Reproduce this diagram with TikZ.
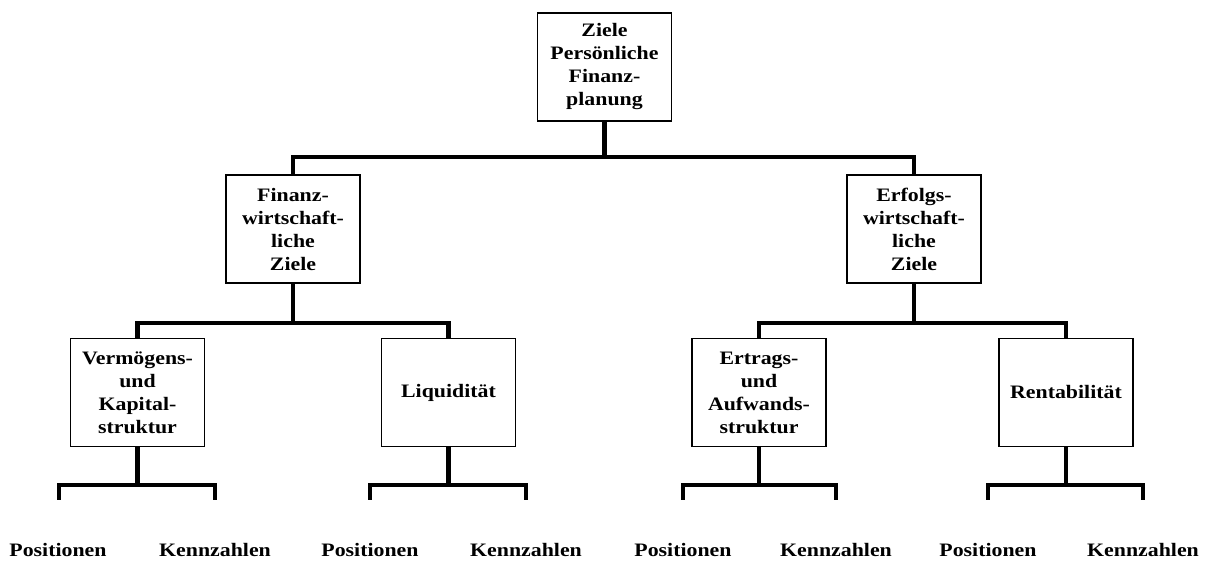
\documentclass[tikz,border=0pt]{standalone}
\usepackage{fontspec}
\setmainfont{Liberation Serif}[FakeStretch=1.15]
\begin{document}
\begin{tikzpicture}[x=1pt,y=-1pt,
  box/.style={draw,line width=1.4pt,minimum width=134pt,minimum height=108pt,inner sep=0pt,align=center,
    font=\fontsize{19}{23}\selectfont\bfseries},
  lbl/.style={inner sep=0pt,font=\fontsize{19}{23}\selectfont\bfseries},
  conn/.style={line width=4.5pt}]
\useasboundingbox (0,0) rectangle (1211,564);
\node[box] (top) at (604.5,67) {Ziele\\Persönliche\\Finanz-\\planung};
\node[box] (fin) at (293,229) {Finanz-\\wirtschaft-\\liche\\Ziele};
\node[box] (erf) at (914,229) {Erfolgs-\\wirtschaft-\\liche\\Ziele};
\node[box] (verm) at (137.5,392.5) {Vermögens-\\und\\Kapital-\\struktur};
\node[box] (liq) at (448.5,392.5) {Liquidität};
\node[box] (ertr) at (759,392.5) {Ertrags-\\und\\Aufwands-\\struktur};
\node[box] (rent) at (1066,392.5) {Rentabilität};
% connectors
\draw[conn] (top.south) -- (top.south |- 0,157) -| (fin.north);
\draw[conn] (top.south |- 0,157) -| (erf.north);
\draw[conn] (fin.south) -- (fin.south |- 0,323) -| (verm.north);
\draw[conn] (fin.south |- 0,323) -| (liq.north);
\draw[conn] (erf.south) -- (erf.south |- 0,323) -| (ertr.north);
\draw[conn] (erf.south |- 0,323) -| (rent.north);
% bottom ticks
\coordinate (t1) at (59,500); \coordinate (t2) at (215,500);
\coordinate (t3) at (370,500); \coordinate (t4) at (526,500);
\coordinate (t5) at (683,500); \coordinate (t6) at (836,500);
\coordinate (t7) at (988,500); \coordinate (t8) at (1143,500);
\draw[conn] (verm.south) -- (verm.south |- 0,485) -| (t1);
\draw[conn] (verm.south |- 0,485) -| (t2);
\draw[conn] (liq.south) -- (liq.south |- 0,485) -| (t3);
\draw[conn] (liq.south |- 0,485) -| (t4);
\draw[conn] (ertr.south) -- (ertr.south |- 0,485) -| (t5);
\draw[conn] (ertr.south |- 0,485) -| (t6);
\draw[conn] (rent.south) -- (rent.south |- 0,485) -| (t7);
\draw[conn] (rent.south |- 0,485) -| (t8);
% labels
\node[lbl] (p1) at (58,550) {Positionen};
\node[lbl] (k1) at (215,550) {Kennzahlen};
\node[lbl] (p2) at (370,550) {Positionen};
\node[lbl] (k2) at (526,550) {Kennzahlen};
\node[lbl] (p3) at (683,550) {Positionen};
\node[lbl] (k3) at (836,550) {Kennzahlen};
\node[lbl] (p4) at (988,550) {Positionen};
\node[lbl] (k4) at (1143,550) {Kennzahlen};
\end{tikzpicture}
\end{document}
